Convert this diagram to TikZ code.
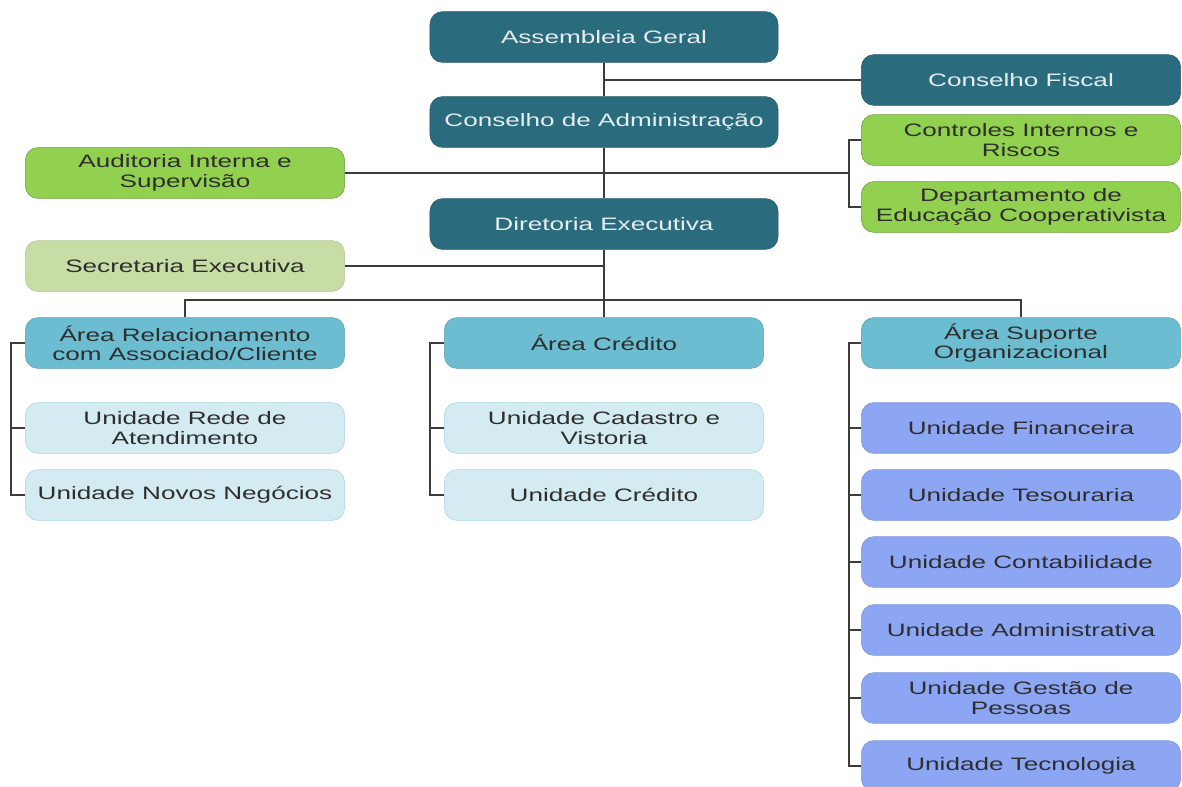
\documentclass[tikz,border=0pt]{standalone}
\usepackage{fontspec}
\setmainfont{Liberation Sans}[FakeStretch=1.45]
\usetikzlibrary{positioning,calc}
\definecolor{boardc}{RGB}{42,108,126}
\definecolor{ctrlc}{RGB}{146,208,80}
\definecolor{secc}{RGB}{200,220,166}
\definecolor{areac}{RGB}{108,189,209}
\definecolor{unitc}{RGB}{211,235,241}
\definecolor{supc}{RGB}{140,166,244}
\definecolor{linec}{RGB}{60,60,60}

\begin{document}
\begin{tikzpicture}[x=0.025cm,y=-0.025cm,
 font=\fontsize{12.8}{13.8}\selectfont,
 box/.style={rounded corners=9pt,align=center,minimum width=7.98cm,minimum height=1.27cm,inner sep=2pt,text=black!82},
 board/.style={box,fill=boardc,draw=boardc!85!black,text=white!88!boardc,minimum width=8.7cm},
 ctrl/.style={box,fill=ctrlc,draw=ctrlc!75!black},
 sec/.style={box,fill=secc,draw=secc!90!black},
 arbox/.style={box,fill=areac,draw=areac!85!black},
 unbox/.style={box,fill=unitc,draw=areac!60!white},
 supbox/.style={box,fill=supc,draw=supc!90!black},
 ln/.style={draw=linec,line width=1.4pt}]
\useasboundingbox (0,0) rectangle (1182,787);
% top of the chart
\node[board] (ag) at (604,37) {Assembleia Geral};
\node[board] (cad) at (604,122) {Conselho de Administração};
\node[board] (de) at (604,224) {Diretoria Executiva};
\node[box,fill=boardc,draw=boardc!85!black,text=white!88!boardc] (cf) at (1021,80) {Conselho Fiscal};
\node[ctrl] (ci) at (1021,140) {Controles Internos e\\Riscos};
\node[ctrl] (dec) at (1021,207) {Departamento de\\Educação Cooperativista};
\node[ctrl] (ai) at (185,173) {Auditoria Interna e\\Supervisão};
\node[sec] (se) at (185,266) {Secretaria Executiva};
% areas
\node[arbox] (arc) at (185,343) {Área Relacionamento\\com Associado/Cliente};
\node[arbox] (acr) at (604,343) {Área Crédito};
\node[arbox] (aso) at (1021,343) {Área Suporte\\Organizacional};
\node[unbox] (urd) at (185,428) {Unidade Rede de\\Atendimento};
\node[unbox] (unn) at (185,495) {Unidade Novos Negócios};
\node[unbox] (ucv) at (604,428) {Unidade Cadastro e\\Vistoria};
\node[unbox] (ucr) at (604,495) {Unidade Crédito};
\node[supbox] (ufi) at (1021,428) {Unidade Financeira};
\node[supbox] (ute) at (1021,495) {Unidade Tesouraria};
\node[supbox] (uco) at (1021,562) {Unidade Contabilidade};
\node[supbox] (uad) at (1021,630) {Unidade Administrativa};
\node[supbox] (ugp) at (1021,698) {Unidade Gestão de\\Pessoas};
\node[supbox] (ute2) at (1021,766) {Unidade Tecnologia};
% connectors
\coordinate (bus) at (604,300);
\coordinate (brk) at (850,173);
\draw[ln] (ag) -- (cad); \draw[ln] (cad) -- (de); \draw[ln] (de) -- (bus);
\draw[ln] (cf.west) -- (cf.west -| ag.south);
\draw[ln] (ai.east) -- (brk);
\draw[ln] (ci.west) -- ++(-12,0) |- (dec.west);
\draw[ln] (se.east) -- (se.east -| de.south);
\draw[ln] (arc.north) |- (bus) -| (aso.north);
\draw[ln] (bus) -- (acr.north);
\draw[ln] (arc.west) -- ++(-14,0) |- (unn.west);
\draw[ln] (urd.west) -- ++(-14,0);
\draw[ln] (acr.west) -- ++(-14,0) |- (ucr.west);
\draw[ln] (ucv.west) -- ++(-14,0);
\draw[ln] (aso.west) -- ++(-12,0) |- (ute2.west);
\foreach \u in {ufi,ute,uco,uad,ugp} \draw[ln] (\u.west) -- ++(-12,0);
\end{tikzpicture}
\end{document}
